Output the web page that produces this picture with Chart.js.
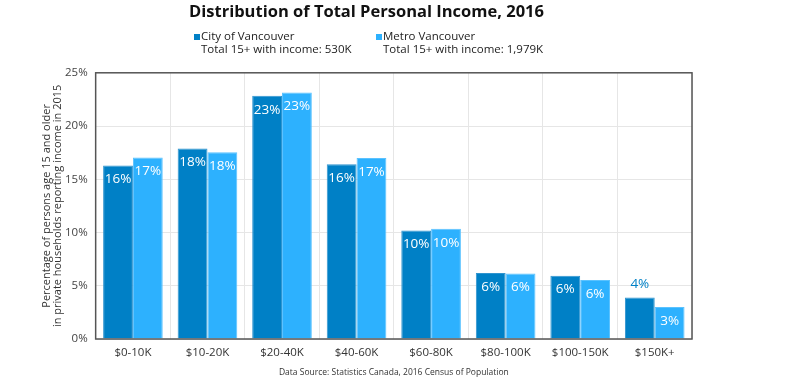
<!DOCTYPE html>
<html>
<head>
<meta charset="utf-8">
<script src="https://cdn.jsdelivr.net/npm/chart.js@4.4.1/dist/chart.umd.min.js"></script>
<style>
  html, body { margin: 0; padding: 0; background: #fff; }
  #wrap { width: 786px; height: 391px; position: relative; }
</style>
</head>
<body>
<div id="wrap"><canvas id="incomeChart"></canvas></div>
<script>
// Data
const incomeBrackets = ["$0-10K", "$10-20K", "$20-40K", "$40-60K", "$60-80K", "$80-100K", "$100-150K", "$150K+"];
const cityValues = [16.3, 17.9, 22.85, 16.4, 10.2, 6.2, 5.95, 3.9];
const metroValues = [17.05, 17.55, 23.15, 17.0, 10.35, 6.15, 5.55, 3.0];
const seriesNames = ["City of Vancouver", "Metro Vancouver"];
const seriesTotals = ["Total 15+ with income: 530K", "Total 15+ with income: 1,979K"];
const yTicks = [0, 5, 10, 15, 20, 25];

const cityColor = "#0080c6";
const metroColor = "#2db1fe";
const fontFamily = "'Open Sans', sans-serif";

// box around the plot
const plotBox = {
  id: "plotBox",
  afterDatasetsDraw(chart) {
    const { ctx, chartArea: a } = chart;
    ctx.save();
    ctx.strokeStyle = "#555";
    ctx.lineWidth = 1.5;
    ctx.strokeRect(a.left, a.top, a.right - a.left, a.bottom - a.top);
    ctx.restore();
  },
};

// value labels on the bars
const barLabels = {
  id: "barLabels",
  afterDatasetsDraw(chart) {
    const { ctx } = chart;
    ctx.save();
    ctx.font = "500 13.5px " + fontFamily;
    ctx.textAlign = "center";
    ctx.textBaseline = "middle";
    chart.data.datasets.forEach((ds, di) => {
      chart.getDatasetMeta(di).data.forEach((bar, i) => {
        const txt = Math.round(ds.data[i]) + "%";
        const h = bar.base - bar.y;
        if (h < 45 && di === 0) {
          ctx.fillStyle = cityColor;
          ctx.fillText(txt, bar.x, bar.y - 13);
        } else {
          ctx.fillStyle = "#fff";
          ctx.fillText(txt, bar.x, bar.y + 14);
        }
      });
    });
    ctx.restore();
  },
};

// two-line legend
const twoLineLegend = {
  id: "twoLineLegend",
  afterDraw(chart) {
    const { ctx } = chart;
    const xs = [194, 376];
    const colors = [cityColor, metroColor];
    ctx.save();
    ctx.font = "11.5px " + fontFamily;
    ctx.textBaseline = "middle";
    ctx.textAlign = "left";
    xs.forEach((x, i) => {
      ctx.fillStyle = colors[i];
      ctx.fillRect(x, 34, 6, 6);
      ctx.fillStyle = "#222";
      ctx.fillText(seriesNames[i], x + 7, 37);
      ctx.fillText(seriesTotals[i], x + 7, 50);
    });
    ctx.restore();
  },
};

new Chart(document.getElementById("incomeChart"), {
  type: "bar",
  data: {
    labels: incomeBrackets,
    datasets: [
      {
        label: seriesNames[0],
        data: cityValues,
        backgroundColor: cityColor,
        borderColor: "#2f94cf",
        borderWidth: 1,
        categoryPercentage: 0.8,
        barPercentage: 1.0,
      },
      {
        label: seriesNames[1],
        data: metroValues,
        backgroundColor: metroColor,
        borderColor: "#5ac2ff",
        borderWidth: 1,
        categoryPercentage: 0.8,
        barPercentage: 1.0,
      },
    ],
  },
  options: {
    responsive: true,
    maintainAspectRatio: false,
    animation: false,
    layout: { padding: { left: 41, right: 94, top: 0, bottom: 13 } },
    plugins: {
      legend: { display: false },
      tooltip: { enabled: false },
      title: {
        display: true,
        text: "Distribution of Total Personal Income, 2016",
        color: "#111",
        font: { family: fontFamily, size: 16.5, weight: "bold" },
        padding: { top: 2, bottom: 51 },
      },
    },
    scales: {
      x: {
        grid: { color: "#e6e6e6", drawTicks: false },
        border: { display: false },
        ticks: { color: "#333", font: { family: fontFamily, size: 11.5 }, padding: 7 },
        title: {
          display: true,
          text: "Data Source: Statistics Canada, 2016 Census of Population",
          color: "#333",
          font: { family: fontFamily, size: 8.5 },
          padding: { top: 1, bottom: 0 },
        },
      },
      y: {
        min: 0,
        max: 25,
        afterBuildTicks(scale) {
          scale.ticks = yTicks.map((v) => ({ value: v }));
        },
        afterFit(scale) {
          scale.width = scale.width - 6;
        },
        grid: { color: "#e6e6e6", drawTicks: false },
        border: { display: false },
        ticks: {
          color: "#444",
          font: { family: fontFamily, size: 11.5 },
          padding: 8,
          callback: (v) => v + "%",
        },
        title: {
          display: true,
          text: ["Percentage of persons age 15 and older", "in private households reporting income in 2015"],
          color: "#333",
          font: { family: fontFamily, size: 11, lineHeight: 1.0 },
          padding: { top: 0, bottom: 0 },
        },
      },
    },
  },
  plugins: [plotBox, barLabels, twoLineLegend],
});
</script>
</body>
</html>
